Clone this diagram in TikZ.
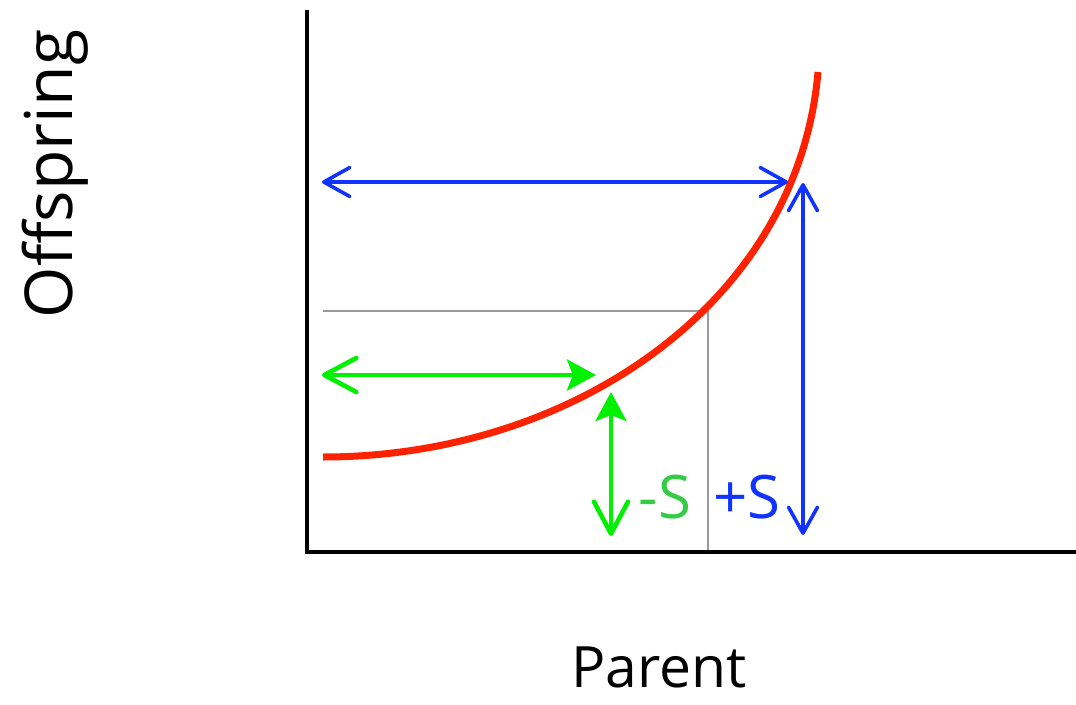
\documentclass[tikz,border=0pt]{standalone}
\usepackage{fontspec}
\setmainfont{Open Sans}
\usetikzlibrary{arrows.meta}
\definecolor{curvered}{RGB}{255,34,0}
\definecolor{arrblue}{RGB}{17,51,255}
\definecolor{arrgreen}{RGB}{0,240,0}
\definecolor{labgreen}{RGB}{51,204,68}
\tikzset{
  axis/.style={line width=4.5pt,black},
  guide/.style={line width=1.3pt,black!40},
  bluearr/.style={line width=3.6pt,arrblue,line cap=round},
  greenarr/.style={line width=4.6pt,arrgreen,line cap=round},
  bluebarb/.tip={Straight Barb[length=26pt,width=29pt,line width=3.6pt,round]},
  greenbarb/.tip={Straight Barb[length=32pt,width=34pt,line width=4.6pt,round]},
  greenfill/.tip={Stealth[length=29pt,width=31pt,inset=6pt]},
  lab/.style={font=\fontsize{60}{60}\selectfont,inner sep=0pt,anchor=base}
}
\begin{document}
\begin{tikzpicture}[x=1pt,y=-1pt]
\useasboundingbox (0,0) rectangle (1076,704);
% coordinates
\coordinate (ytop) at (307,10);
\coordinate (orig) at (307,552);
\coordinate (xend) at (1076,552);
\coordinate (gl) at (323,311);
\coordinate (gc) at (708,311);
\coordinate (gb) at (708,552);
\coordinate (bhl) at (322,182);
\coordinate (bhr) at (788,182);
\coordinate (bvt) at (803,183);
\coordinate (bvb) at (803,535);
\coordinate (ghl) at (322,375);
\coordinate (ghr) at (596,375);
\coordinate (gvt) at (611,392);
\coordinate (gvb) at (611,536);
\coordinate (cs) at (323,457);
\coordinate (ce) at (818,72);
% guide lines
\draw[guide] (gl) -- (gc) -- (gb);
% axes
\draw[axis] (ytop) -- (orig) -- (xend);
% curve
\draw[line width=7pt,curvered] (cs) .. controls (572,457) and (798,303) .. (ce);
% arrows
\draw[bluearr,{bluebarb}-{bluebarb}] (bhl) -- (bhr);
\draw[bluearr,{bluebarb}-{bluebarb}] (bvt) -- (bvb);
\draw[greenarr,{greenbarb}-{greenfill}] (ghl) -- (ghr);
\draw[greenarr,{greenfill}-{greenbarb}] (gvt) -- (gvb);
% labels
\node[lab,text=labgreen] (minus) at (665,518) {-S};
\node[lab,text=arrblue] (plus) at (747,518) {+S};
\node[lab,font=\fontsize{57}{57}\selectfont] (xlab) at (659,687) {Parent};
\node[lab,font=\fontsize{66}{66}\selectfont,rotate=90] (ylab) at (72,174) {Offspring};
\end{tikzpicture}
\end{document}
